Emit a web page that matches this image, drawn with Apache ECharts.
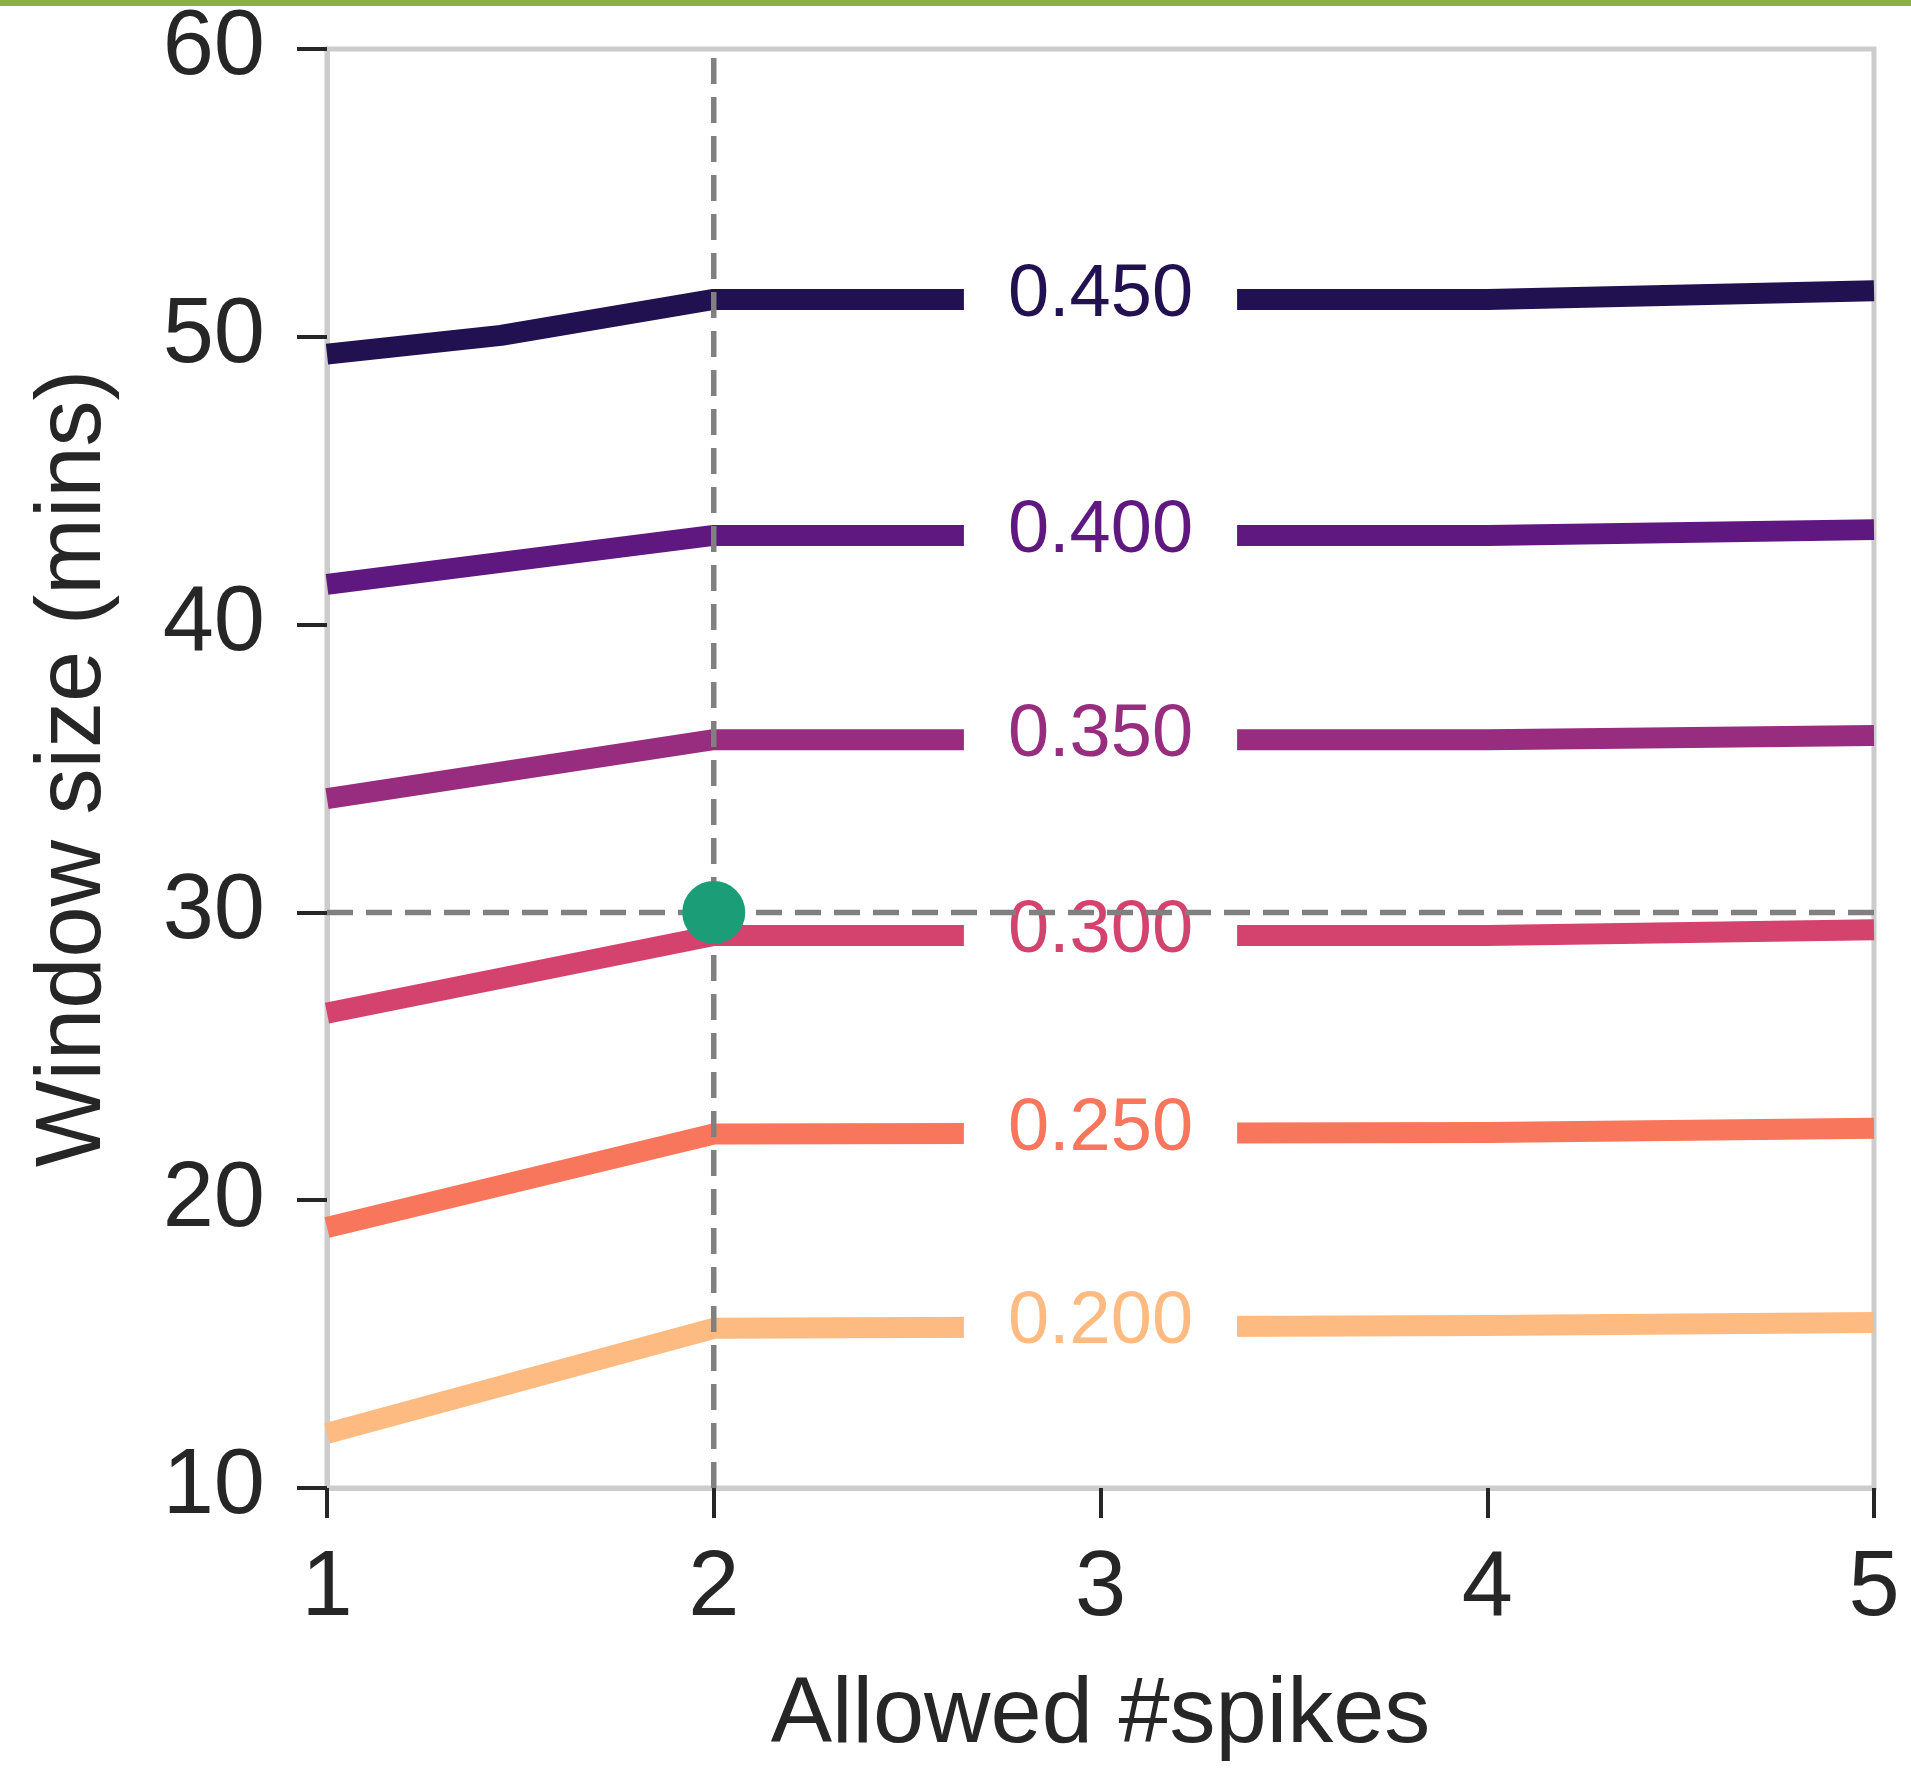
<!DOCTYPE html>
<html><head><meta charset="utf-8">
<script src="https://cdn.jsdelivr.net/npm/echarts@6/dist/echarts.min.js"></script>
<style>html,body{margin:0;padding:0;background:#fff}#c{width:1911px;height:1768px}</style>
</head><body><div id="c"></div>
<script>
// ---- data ----
const xTicks = [1, 2, 3, 4, 5];
const yTicks = [10, 20, 30, 40, 50, 60];
const levels = ['0.450', '0.400', '0.350', '0.300', '0.250', '0.200'];
const colors = ['#221150', '#5f187f', '#982d80', '#d3436e', '#f8765c', '#febb81'];
const line450 = [[1, 49.4], [1.45, 50.05], [2, 51.3], [4, 51.3], [5, 51.6]];
const line400 = [[1, 41.4], [2, 43.1], [4, 43.1], [5, 43.3]];
const line350 = [[1, 33.95], [2, 36.0], [4, 36.0], [5, 36.15]];
const line300 = [[1, 26.5], [2, 29.2], [4, 29.2], [5, 29.4]];
const line250 = [[1, 19.05], [2, 22.3], [4, 22.35], [5, 22.5]];
const line200 = [[1, 11.9], [2, 15.55], [4, 15.65], [5, 15.75]];
const contourLines = [line450, line400, line350, line300, line250, line200];
const labelX = 3;
const labelY = [51.3, 43.1, 36.0, 29.2, 22.3, 15.6];
const chosenX = 2;
const chosenY = 30;

const FONT = '"Liberation Sans", Arial, Helvetica, sans-serif';
const TXT = '#262626';
const chart = echarts.init(document.getElementById('c'), null, {renderer: 'canvas'});

const series = [];
contourLines.forEach((d, i) => {
  series.push({
    type: 'line', data: d, symbol: 'none', z: 2,
    lineStyle: {color: colors[i], width: 21, cap: 'butt', join: 'round', opacity: 1},
    silent: true, animation: false
  });
});
series.push({
  type: 'scatter', z: 3, symbolSize: 1, animation: false, silent: true,
  itemStyle: {color: 'rgba(0,0,0,0)', opacity: 1},
  data: levels.map((l, i) => ({
    name: l, value: [labelX, labelY[i]],
    label: {color: colors[i]}
  })),
  label: {
    show: true, position: 'inside', formatter: p => p.name,
    fontSize: 74, fontFamily: FONT, backgroundColor: '#ffffff',
    padding: [6, 44, 0, 44], lineHeight: 60, offset: [0, -4], opacity: 1
  }
});
const dashStyle = {color: '#808080', width: 5.5, type: [26, 13], opacity: 1};
series.push({
  type: 'line', z: 4, symbol: 'none', animation: false, silent: true,
  data: [[chosenX, yTicks[0]], [chosenX, yTicks[yTicks.length - 1]]],
  lineStyle: dashStyle
});
series.push({
  type: 'line', z: 4, symbol: 'none', animation: false, silent: true,
  data: [[xTicks[0], chosenY], [xTicks[xTicks.length - 1], chosenY]],
  lineStyle: dashStyle
});
series.push({
  type: 'scatter', z: 5, symbolSize: 63, animation: false, silent: true,
  itemStyle: {color: '#1b9e77', opacity: 1},
  data: [[chosenX, chosenY]]
});

const axisCommon = {
  axisLine: {show: true, lineStyle: {color: '#cccccc', width: 5}},
  axisTick: {show: true, length: 30, lineStyle: {color: TXT, width: 4}},
  splitLine: {show: false},
  axisLabel: {color: TXT, fontSize: 92, fontFamily: FONT, margin: 62},
  nameTextStyle: {color: TXT, fontSize: 92, fontFamily: FONT},
  nameLocation: 'middle'
};

chart.setOption({
  animation: false,
  backgroundColor: '#ffffff',
  grid: {left: 327, right: 37, top: 49, bottom: 271, show: true, borderColor: '#cccccc', borderWidth: 5, containLabel: false},
  xAxis: Object.assign({}, axisCommon, {
    type: 'value', min: xTicks[0], max: xTicks[xTicks.length - 1], interval: 1,
    name: 'Allowed #spikes', nameGap: 183,
    axisLabel: Object.assign({}, axisCommon.axisLabel, {margin: 56})
  }),
  yAxis: Object.assign({}, axisCommon, {
    type: 'value', min: yTicks[0], max: yTicks[yTicks.length - 1], interval: 10,
    name: 'Window size (mins)', nameGap: 206
  }),
  graphic: [{
    type: 'rect', left: 0, top: 0, z: 10,
    shape: {width: 1911, height: 6}, style: {fill: '#8bb143'}
  }],
  series: series
});
</script></body></html>
